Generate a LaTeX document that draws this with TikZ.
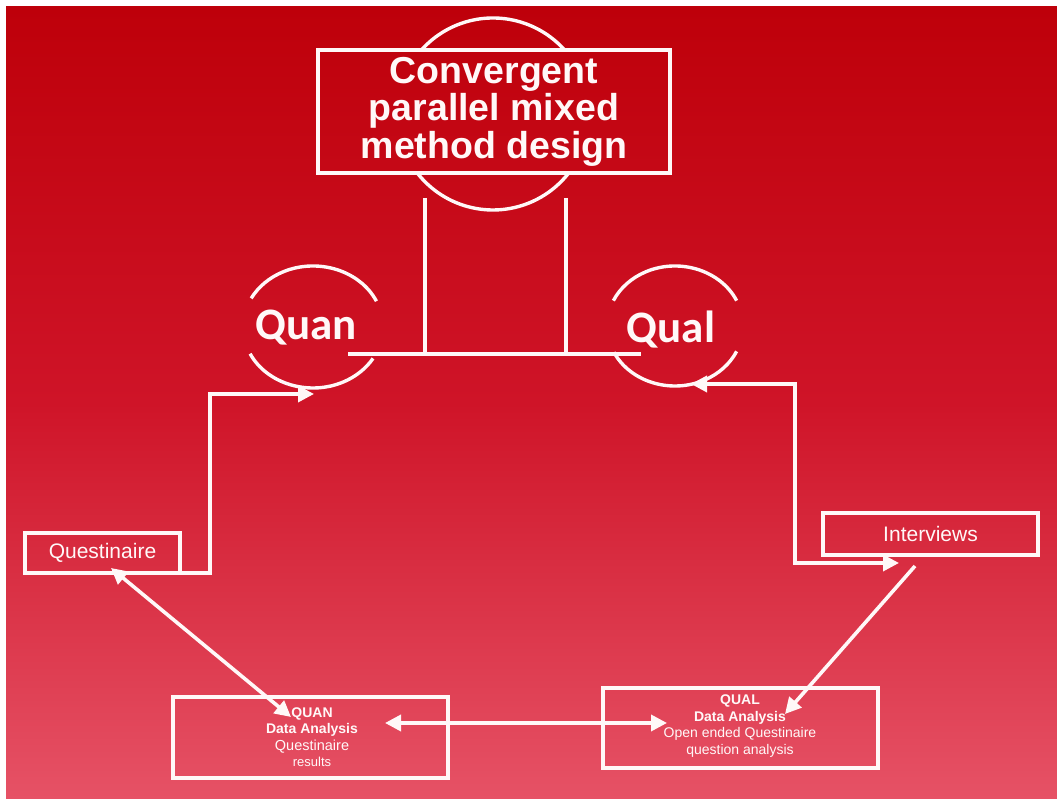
\documentclass[tikz,border=0pt]{standalone}
\usepackage{fontspec}
\setmainfont{Liberation Sans}
\newfontfamily\calib{Carlito}
\usetikzlibrary{arrows.meta}
\definecolor{bgtop}{RGB}{190,0,10}
\definecolor{bgmid}{RGB}{207,20,40}
\definecolor{bgbot}{RGB}{230,82,102}
\definecolor{txt}{RGB}{255,248,248}
\tikzset{
  wline/.style={draw=txt, line width=3.6pt, line join=miter},
  box/.style={wline, rectangle, inner sep=0pt, outer sep=0pt, text=txt, align=center},
  arcline/.style={draw=txt, line width=3.4pt},
  arr/.style={wline, -{Triangle[length=16pt,width=16pt]}},
  darr/.style={wline, {Triangle[length=16pt,width=16pt]}-{Triangle[length=16pt,width=16pt]}},
  big/.style={text=txt, font=\calib\fontsize{45}{50}\selectfont\bfseries},
}
\begin{document}
\begin{tikzpicture}[x=1pt,y=1pt]
\useasboundingbox (0,0) rectangle (1057,799);
\fill[white] (0,0) rectangle (1057,799);
\shade[top color=bgtop, bottom color=bgbot, middle color=bgmid] (6,0) rectangle (1057,792);

% title box with circle
\node[box, minimum width=352pt, minimum height=123pt,
  font=\fontsize{37.5}{37.5}\selectfont\bfseries] (title) at (494,687.5)
  {Convergent\\parallel mixed\\method design};
\draw[arcline] (493,685) ++(42:96pt) arc[start angle=42, end angle=138, radius=96pt];
\draw[arcline] (493,685) ++(218:96pt) arc[start angle=218, end angle=322, radius=96pt];

% Quan / Qual
\node[big] (quan) at (306,471) {Quan};
\node[big] (qual) at (671,469) {Qual};
\draw[arcline] (313,472) ++(25:70pt and 61pt) arc[start angle=25, end angle=152, x radius=70pt, y radius=61pt];
\draw[arcline] (313,472) ++(206:70pt and 61pt) arc[start angle=206, end angle=329, x radius=70pt, y radius=61pt];
\draw[arcline] (675,473) ++(25:68pt and 60pt) arc[start angle=25, end angle=155, x radius=68pt, y radius=60pt];
\draw[arcline] (675,473) ++(206:68pt and 60pt) arc[start angle=206, end angle=335, x radius=68pt, y radius=60pt];

% connecting bracket
\coordinate (bl) at (348,445);
\coordinate (br) at (641,445);
\coordinate (v1t) at (425,601);
\coordinate (v2t) at (566,601);
\draw[wline] (bl) -- (br);
\draw[wline] (v1t) -- (v1t |- bl);
\draw[wline] (v2t) -- (v2t |- bl);

% data collection boxes
\node[box, minimum width=155pt, minimum height=40pt,
  font=\fontsize{21}{24}\selectfont] (quest) at (102.5,246) {Questinaire};
\node[box, minimum width=215pt, minimum height=42pt,
  font=\fontsize{21}{24}\selectfont] (interv) at (930.5,265) {Interviews};

% analysis boxes
\node[box, minimum width=275pt, minimum height=81pt] (quanA) at (310.5,61.5) {};
\node[text=txt, align=center, font=\fontsize{14}{16.5}\selectfont] (quanT) at (312,62)
  {\textbf{QUAN}\\\textbf{Data Analysis}\\{\fontsize{14.5}{16.5}\selectfont Questinaire}\\{\fontsize{13}{16.5}\selectfont results}};
\node[box, minimum width=275pt, minimum height=80pt] (qualA) at (740.5,71) {};
\node[text=txt, align=center, font=\fontsize{14}{16.5}\selectfont] (qualT) at (740,73)
  {\textbf{QUAL}\\\textbf{Data Analysis}\\Open ended Questinaire\\question analysis};

% connectors
\coordinate (quanIn) at (314,405);
\coordinate (qualIn) at (691,415);
\coordinate (ivIn) at (899,236);
\coordinate (qsX) at (210,0);
\draw[arr] (quest.south east) -- (quest.south east -| qsX) |- (quanIn);
\draw[darr] (qualIn) -| (795,236) -- (ivIn);

\coordinate (qsTip) at (111,231);
\coordinate (quanTip) at (291,82);
\draw[darr] (qsTip) -- (quanTip);

\coordinate (ivOut) at (915,233);
\coordinate (qualTip) at (785,85);
\draw[arr] (ivOut) -- (qualTip);

\coordinate (qaL) at (385,76);
\coordinate (qaR) at (667,76);
\draw[darr] (qaL) -- (qaR);
\end{tikzpicture}
\end{document}
